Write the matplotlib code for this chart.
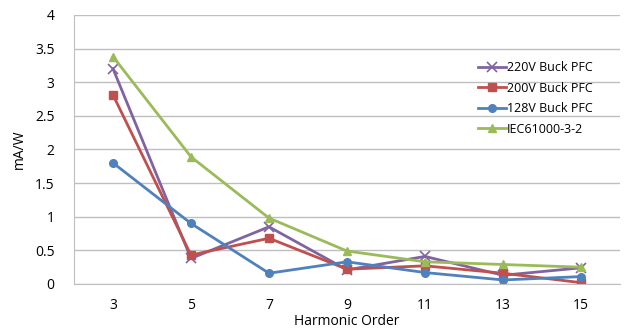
import matplotlib.pyplot as plt

# Harmonic current limits per watt
orders = ['3', '5', '7', '9', '11', '13', '15']
v220 = [3.20, 0.38, 0.85, 0.21, 0.41, 0.13, 0.24]
v200 = [2.81, 0.43, 0.68, 0.22, 0.27, 0.16, 0.02]
v128 = [1.80, 0.90, 0.16, 0.33, 0.17, 0.06, 0.11]
iec = [3.38, 1.89, 0.98, 0.49, 0.33, 0.29, 0.25]

plt.rcParams['font.family'] = ['Open Sans', 'DejaVu Sans']

fig = plt.figure(figsize=(6.25, 3.31), dpi=100)
ax = fig.add_axes([0.1184, 0.142, 0.8736, 0.813])

x = range(len(orders))
ax.plot(x, v220, c='#8064A2', lw=2, marker='x', ms=7, mew=1.2, label='220V Buck PFC')
ax.plot(x, v200, c='#C0504D', lw=2, marker='s', ms=5.5, label='200V Buck PFC')
ax.plot(x, v128, c='#4F81BD', lw=2, marker='o', ms=5.5, label='128V Buck PFC')
ax.plot(x, iec, c='#9BBB59', lw=2, marker='^', ms=6, label='IEC61000-3-2')

# Format plot.
ax.set_xlim(-0.5, len(orders) - 0.5)
ax.set_ylim(0, 4)
ax.set_xticks(list(x))
ax.set_xticklabels(orders)
ax.set_yticks([0, 0.5, 1, 1.5, 2, 2.5, 3, 3.5, 4])
ax.set_yticklabels(['0', '0.5', '1', '1.5', '2', '2.5', '3', '3.5', '4'])
ax.grid(axis='y', color='#BFBFBF', lw=1)
ax.set_axisbelow(True)
for s in ['top', 'right']:
    ax.spines[s].set_visible(False)
for s in ['left', 'bottom']:
    ax.spines[s].set_color('#BFBFBF')
ax.tick_params(axis='both', length=0, labelsize=10, pad=10)
ax.tick_params(axis='y', pad=14)
ax.set_xlabel('Harmonic Order', fontsize=10, labelpad=1)
ax.set_ylabel('mA/W', fontsize=10, labelpad=6)

ax.legend(loc='upper left', bbox_to_anchor=(0.72, 0.87), frameon=False,
          fontsize=9, handlelength=2.2, handletextpad=0.1, labelspacing=0.6)

fig.savefig('out.png', dpi=100)
